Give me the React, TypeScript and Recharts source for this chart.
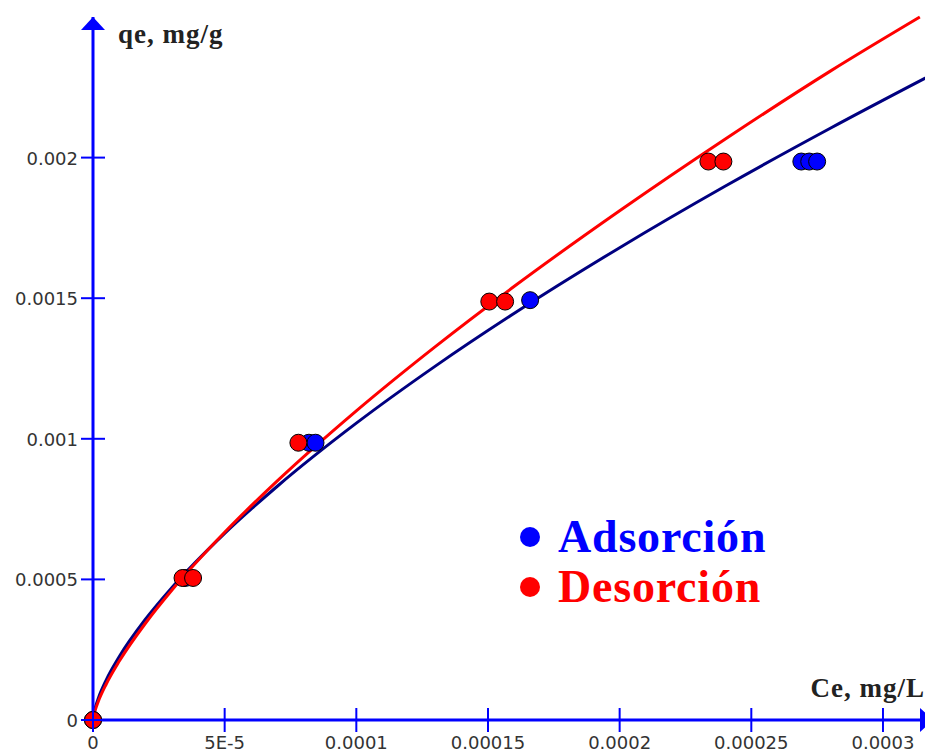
import React from "react";
import {
  ComposedChart,
  Line,
  Scatter,
  XAxis,
  YAxis,
  Customized,
} from "recharts";

// experimental points, Ce (mg/L) vs qe (mg/g)
const adsCe = [0, 0.000035, 0.000082, 0.0000845, 0.000166, 0.000269, 0.000272, 0.000275];
const adsQe = [0, 0.000505, 0.000986, 0.000986, 0.001493, 0.001986, 0.001986, 0.001986];
const desCe = [0, 0.000034, 0.000038, 0.000078, 0.0001505, 0.0001565, 0.0002337, 0.0002394];
const desQe = [0, 0.000505, 0.000505, 0.000986, 0.001488, 0.001488, 0.001986, 0.001986];

// fitted isotherm curves
const adsFitCe = [
  0, 0.0000005, 0.000001, 0.000002, 0.000005, 0.00001, 0.00002, 0.00003, 0.00005,
  0.00007, 0.0001, 0.00013, 0.00016, 0.0002, 0.00024, 0.00028, 0.000319,
];
const adsFit = [
  0, 0.0000303, 0.0000483, 0.0000768, 0.0001419, 0.0002257, 0.0003591, 0.0004713,
  0.0006636, 0.0008313, 0.0010556, 0.0012585, 0.0014465, 0.0016797, 0.0018981,
  0.0021044, 0.002297,
];
const desFitCe = [
  0, 0.0000005, 0.000001, 0.000002, 0.000005, 0.00001, 0.00002, 0.00003, 0.00005,
  0.00007, 0.0001, 0.00013, 0.00016, 0.0002, 0.00024, 0.00028, 0.000314,
];
const desFit = [
  0, 0.0000242, 0.0000399, 0.0000658, 0.0001272, 0.0002095, 0.000345, 0.0004622,
  0.0006675, 0.0008504, 0.0010995, 0.001328, 0.0015423, 0.0018109, 0.0020653,
  0.0023076, 0.0025,
];

const xTicks = [0, 0.00005, 0.0001, 0.00015, 0.0002, 0.00025, 0.0003];
const xTickLabels = ["0", "5E-5", "0.0001", "0.00015", "0.0002", "0.00025", "0.0003"];
const yTicks = [0, 0.0005, 0.001, 0.0015, 0.002];
const yTickLabels = ["0", "0.0005", "0.001", "0.0015", "0.002"];

const seriesNames = ["Adsorción", "Desorción"];

const AXIS = "#0000ff";
const BLUE_PT = "#0000ff";
const BLUE_LINE = "#000080";
const RED = "#ff0000";

const adsPoints = adsCe.map((c, i) => ({ c, q: adsQe[i] }));
const desPoints = desCe.map((c, i) => ({ c, q: desQe[i] }));
const adsCurve = adsFitCe.map((c, i) => ({ c, q: adsFit[i] }));
const desCurve = desFitCe.map((c, i) => ({ c, q: desFit[i] }));

const tickFont = { fontFamily: "DejaVu Sans", fontSize: 18, fill: "#333" };

const XTick = (props: any) => {
  const { x, y, payload } = props;
  const idx = xTicks.indexOf(payload.value);
  return (
    <g>
      <line x1={x} x2={x} y1={y - 12} y2={y + 12} stroke={AXIS} strokeWidth={2} />
      <text x={x} y={y + 29} textAnchor="middle" {...tickFont}>
        {xTickLabels[idx] ?? payload.value}
      </text>
    </g>
  );
};

const YTick = (props: any) => {
  const { x, y, payload } = props;
  const idx = yTicks.indexOf(payload.value);
  return (
    <g>
      <line x1={x - 12} x2={x + 12} y1={y} y2={y} stroke={AXIS} strokeWidth={2} />
      <text x={x - 15} y={y + 7} textAnchor="end" {...tickFont}>
        {yTickLabels[idx] ?? payload.value}
      </text>
    </g>
  );
};

const dot = (fill: string) => (props: any) => (
  <circle cx={props.cx} cy={props.cy} r={8.5} fill={fill} stroke="#000" strokeWidth={1} />
);

const Decor = () => (
  <g>
    <polygon points="85,9 73,22 97,22" fill={AXIS} />
    <polygon points="925,712 912,700 912,724" fill={AXIS} />
    <text
      x={110}
      y={35}
      fontFamily="Liberation Serif"
      fontWeight="bold"
      fontSize={27}
      letterSpacing={1}
      fill="#222"
    >
      qe, mg/g
    </text>
    <text
      x={917}
      y={689}
      textAnchor="end"
      fontFamily="Liberation Serif"
      fontWeight="bold"
      fontSize={27}
      letterSpacing={1}
      fill="#222"
    >
      Ce, mg/L
    </text>
    <circle cx={522} cy={529} r={10} fill={BLUE_PT} />
    <text
      x={550}
      y={544}
      fontFamily="Liberation Serif"
      fontWeight="bold"
      fontSize={46}
      letterSpacing={0.8}
      fill={BLUE_PT}
    >
      {seriesNames[0]}
    </text>
    <circle cx={522} cy={579} r={10} fill={RED} />
    <text
      x={550}
      y={594}
      fontFamily="Liberation Serif"
      fontWeight="bold"
      fontSize={46}
      letterSpacing={0.8}
      fill={RED}
    >
      {seriesNames[1]}
    </text>
  </g>
);

export default function App() {
  return (
    <ComposedChart
      width={925}
      height={748}
      margin={{ top: 9, right: 0, bottom: 0, left: 0 }}
      style={{ background: "#fff" }}
    >
      <XAxis
        type="number"
        dataKey="c"
        domain={[0, 0.000319]}
        ticks={xTicks}
        height={36}
        axisLine={{ stroke: AXIS, strokeWidth: 3 }}
        tickLine={false}
        tickSize={0}
        tickMargin={0}
        tick={<XTick />}
        interval={0}
      />
      <YAxis
        type="number"
        dataKey="q"
        domain={[0, 0.0025]}
        ticks={yTicks}
        width={85}
        axisLine={{ stroke: AXIS, strokeWidth: 3 }}
        tickLine={false}
        tickSize={0}
        tickMargin={0}
        tick={<YTick />}
        interval={0}
      />
      <Scatter
        name={seriesNames[0]}
        data={adsPoints}
        fill={BLUE_PT}
        shape={dot(BLUE_PT)}
        isAnimationActive={false}
      />
      <Scatter
        name={seriesNames[1]}
        data={desPoints}
        fill={RED}
        shape={dot(RED)}
        isAnimationActive={false}
      />
      <Line
        data={adsCurve}
        dataKey="q"
        type="monotone"
        stroke={BLUE_LINE}
        strokeWidth={3}
        dot={false}
        activeDot={false}
        isAnimationActive={false}
      />
      <Line
        data={desCurve}
        dataKey="q"
        type="monotone"
        stroke={RED}
        strokeWidth={3}
        dot={false}
        activeDot={false}
        isAnimationActive={false}
      />
      <Customized component={<Decor />} />
    </ComposedChart>
  );
}
